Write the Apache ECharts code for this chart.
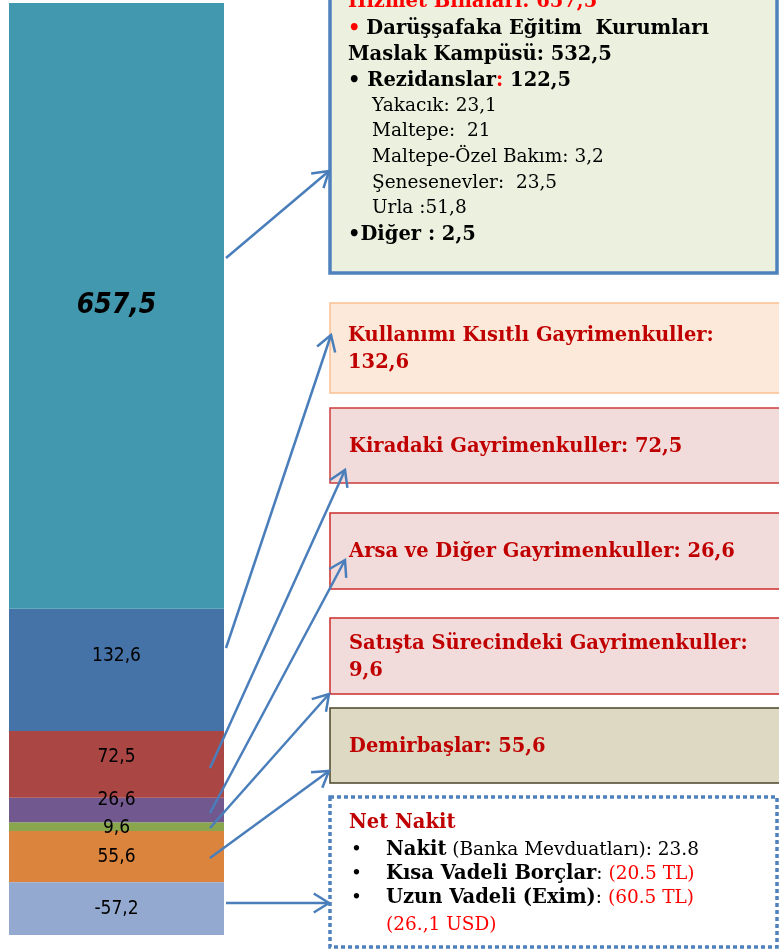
<!DOCTYPE html>
<html>
<head>
<meta charset="utf-8">
<script src="https://cdn.jsdelivr.net/npm/echarts@6/dist/echarts.min.js"></script>
<style>html,body{margin:0;padding:0;background:#fff}#c{width:779px;height:950px}</style>
</head>
<body>
<div id="c"></div>
<script>
// ---- data ----
const categories = ['Varlıklar'];
const seriesNames = ['Demirbaşlar', 'Satışta Sürecindeki Gayrimenkuller', 'Arsa ve Diğer Gayrimenkuller', 'Kiradaki Gayrimenkuller', 'Kullanımı Kısıtlı Gayrimenkuller', 'Hizmet Binaları', 'Net Nakit'];
const demirbas = [55.6];
const satista = [9.6];
const arsa = [26.6];
const kiradaki = [72.5];
const kisitli = [132.6];
const hizmet = [657.5];
const netNakit = [-57.2];
const colors = ['#DB843D', '#89A54E', '#71588F', '#AA4643', '#4572A7', '#4198AF', '#93A9CF'];

const values = [demirbas, satista, arsa, kiradaki, kisitli, hizmet, netNakit];
const posTotal = values.slice(0, 6).reduce((s, a) => s + a[0], 0);
const negTotal = netNakit[0];

const fmt = v => v.toFixed(1).replace('.', ',');
const labelOffsets = [[0, 0], [0, 1], [0, -10], [0, -7], [0, -14], [0, 0], [0, 0]];

const series = values.map((arr, i) => ({
  name: seriesNames[i],
  type: 'bar',
  stack: 'total',
  data: arr,
  barWidth: '100%',
  itemStyle: { color: colors[i] },
  label: {
    show: true,
    position: 'inside',
    offset: labelOffsets[i],
    formatter: p => fmt(p.value),
    color: '#000',
    fontFamily: 'DejaVu Sans Condensed, Liberation Sans Narrow, DejaVu Sans',
    fontSize: i === 5 ? 28 : 19,
    fontWeight: i === 5 ? 'bold' : 'normal',
    fontStyle: i === 5 ? 'italic' : 'normal'
  }
}));

// ---- annotation helpers ----
const ARROW = '#4A7EBB';
function arrow(x1, y1, x2, y2) {
  const a = Math.atan2(y1 - y2, x1 - x2), L = 18, w = 32 * Math.PI / 180;
  const p1 = [x2 + L * Math.cos(a + w), y2 + L * Math.sin(a + w)];
  const p2 = [x2 + L * Math.cos(a - w), y2 + L * Math.sin(a - w)];
  return [
    { type: 'line', shape: { x1, y1, x2, y2 }, style: { stroke: ARROW, lineWidth: 2.5 }, z: 10 },
    { type: 'polyline', shape: { points: [p1, [x2, y2], p2] }, style: { stroke: ARROW, lineWidth: 2.5, fill: null }, z: 10 }
  ];
}
const SERIF = 'DejaVu Serif';
const BOLD = 19.5, REG = 18.5;
function txt(x, y, text, opts) {
  opts = opts || {};
  return {
    type: 'text', x, y, z: 20,
    style: {
      text,
      fill: opts.color || '#000',
      fontFamily: SERIF,
      fontSize: opts.size || (opts.bold ? BOLD : REG),
      fontWeight: opts.bold ? 'bold' : 'normal',
      verticalAlign: 'middle', textVerticalAlign: 'middle',
      rich: opts.rich
    }
  };
}
function box(x, y, w, h, fill, stroke, lw, dash) {
  return { type: 'rect', shape: { x, y, width: w, height: h }, z: 5,
    style: { fill, stroke, lineWidth: lw, lineDash: dash || null } };
}
const R = (o) => Object.assign({ fontFamily: SERIF, fontSize: o.fontWeight === 'bold' ? BOLD : REG }, o);

const graphic = [
  box(330, -40, 447, 313, '#EBF1DE', '#4F81BD', 3.5),
  box(330, 303, 460, 90, '#FDE9D9', '#FAC090', 1.5),
  box(330, 408, 460, 75, '#F2DCDB', '#CC3B3B', 1.5),
  box(330, 513, 460, 76, '#F2DCDB', '#CC2B2B', 1.5),
  box(330, 618, 460, 76, '#F2DCDB', '#CC2B2B', 1.5),
  box(330, 708, 460, 75, '#DDD9C3', '#4A452A', 1.5),
  box(330, 797, 447, 150, '#FFFFFF', '#4F81BD', 3.5, [4, 3]),

  txt(348, 2, 'Hizmet Binaları: 657,5', { color: '#FF0000', bold: true }),
  txt(348, 29, '{r|•} {b|Darüşşafaka Eğitim  Kurumları}', { rich: { r: R({ fill: '#FF0000', fontWeight: 'bold' }), b: R({ fill: '#000', fontWeight: 'bold' }) } }),
  txt(348, 55, 'Maslak Kampüsü: 532,5', { bold: true }),
  txt(348, 81, '{b|• Rezidanslar}{r|:}{b| 122,5}', { rich: { r: R({ fill: '#FF0000', fontWeight: 'bold' }), b: R({ fill: '#000', fontWeight: 'bold' }) } }),
  txt(372, 106, 'Yakacık: 23,1'),
  txt(372, 131, 'Maltepe:  21'),
  txt(372, 157, 'Maltepe-Özel Bakım: 3,2'),
  txt(372, 183, 'Şenesenevler:  23,5'),
  txt(372, 208, 'Urla :51,8'),
  txt(348, 235, '•Diğer : 2,5', { bold: true }),

  txt(348, 336, 'Kullanımı Kısıtlı Gayrimenkuller:', { color: '#C00000', bold: true }),
  txt(348, 363, '132,6', { color: '#C00000', bold: true }),
  txt(349, 447, 'Kiradaki Gayrimenkuller: 72,5', { color: '#C00000', bold: true }),
  txt(349, 552, 'Arsa ve Diğer Gayrimenkuller: 26,6', { color: '#C00000', bold: true }),
  txt(349, 644, 'Satışta Sürecindeki Gayrimenkuller:', { color: '#C00000', bold: true }),
  txt(349, 671, '9,6', { color: '#C00000', bold: true }),
  txt(349, 747, 'Demirbaşlar: 55,6', { color: '#C00000', bold: true }),

  txt(349, 823, 'Net Nakit', { color: '#C00000', bold: true }),
  txt(351, 850, '•'), txt(351, 874, '•'), txt(351, 898, '•'),
  txt(386, 850, '{b|Nakit} {n|(Banka Mevduatları): 23.8}', { rich: { b: R({ fill: '#000', fontWeight: 'bold' }), n: R({ fill: '#000' }) } }),
  txt(386, 874, '{b|Kısa Vadeli Borçlar}{n|: }{r|(20.5 TL)}', { rich: { b: R({ fill: '#000', fontWeight: 'bold' }), n: R({ fill: '#000' }), r: R({ fill: '#FF0000' }) } }),
  txt(386, 898, '{b|Uzun Vadeli (Exim)}{n|: }{r|(60.5 TL)}', { rich: { b: R({ fill: '#000', fontWeight: 'bold' }), n: R({ fill: '#000' }), r: R({ fill: '#FF0000' }) } }),
  txt(386, 925, '(26.,1 USD)', { color: '#FF0000' })
].concat(
  arrow(226, 258, 329, 171),
  arrow(226, 648, 331, 335),
  arrow(210, 768, 345, 470),
  arrow(210, 813, 345, 560),
  arrow(210, 828, 329, 694),
  arrow(210, 858, 329, 771),
  arrow(226, 903, 329, 903)
);

const chart = echarts.init(document.getElementById('c'), null, { renderer: 'canvas' });
chart.setOption({
  animation: false,
  grid: { left: 9, right: 555, top: 3, bottom: 15 },
  xAxis: { type: 'category', data: categories, show: false },
  yAxis: { type: 'value', min: negTotal, max: posTotal, show: false, splitLine: { show: false } },
  series,
  graphic
});
</script>
</body>
</html>
